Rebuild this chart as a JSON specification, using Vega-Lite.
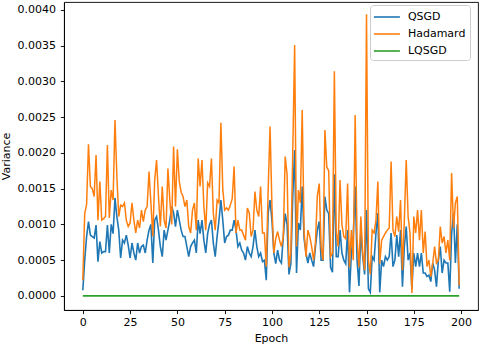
{
"$schema": "https://vega.github.io/schema/vega-lite/v6.json",
"width": 414, "height": 308,
"autosize": {"type": "none"},
"padding": {"left": 64, "top": 2, "right": 2, "bottom": 34},
"background": "white",
"config": {
 "font": "DejaVu Sans",
 "view": {"stroke": "#000000", "strokeWidth": 0.9},
 "axis": {"grid": false, "domainColor": "#000000", "domainWidth": 0.9, "tickColor": "#000000", "tickWidth": 0.9, "tickSize": 3.6, "labelFontSize": 11, "labelColor": "#000000", "labelPadding": 2.5, "titleFontSize": 11, "titleFontWeight": "normal", "titleColor": "#000000"}
},
"data": {"values": [
{"epoch":0,"QSGD":0.00008,"Hadamard":0.00022,"LQSGD":0},
{"epoch":1,"QSGD":0.00050,"Hadamard":0.00115,"LQSGD":0},
{"epoch":2,"QSGD":0.00083,"Hadamard":0.00128,"LQSGD":0},
{"epoch":3,"QSGD":0.00104,"Hadamard":0.00212,"LQSGD":0},
{"epoch":4,"QSGD":0.00085,"Hadamard":0.00153,"LQSGD":0},
{"epoch":5,"QSGD":0.00083,"Hadamard":0.00150,"LQSGD":0},
{"epoch":6,"QSGD":0.00081,"Hadamard":0.00139,"LQSGD":0},
{"epoch":7,"QSGD":0.00099,"Hadamard":0.00197,"LQSGD":0},
{"epoch":8,"QSGD":0.00048,"Hadamard":0.00106,"LQSGD":0},
{"epoch":9,"QSGD":0.00076,"Hadamard":0.00160,"LQSGD":0},
{"epoch":10,"QSGD":0.00060,"Hadamard":0.00106,"LQSGD":0},
{"epoch":11,"QSGD":0.00062,"Hadamard":0.00108,"LQSGD":0},
{"epoch":12,"QSGD":0.00062,"Hadamard":0.00111,"LQSGD":0},
{"epoch":13,"QSGD":0.00099,"Hadamard":0.00211,"LQSGD":0},
{"epoch":14,"QSGD":0.00060,"Hadamard":0.00109,"LQSGD":0},
{"epoch":15,"QSGD":0.00100,"Hadamard":0.00148,"LQSGD":0},
{"epoch":16,"QSGD":0.00087,"Hadamard":0.00134,"LQSGD":0},
{"epoch":17,"QSGD":0.00137,"Hadamard":0.00246,"LQSGD":0},
{"epoch":18,"QSGD":0.00111,"Hadamard":0.00167,"LQSGD":0},
{"epoch":19,"QSGD":0.00092,"Hadamard":0.00111,"LQSGD":0},
{"epoch":20,"QSGD":0.00053,"Hadamard":0.00127,"LQSGD":0},
{"epoch":21,"QSGD":0.00078,"Hadamard":0.00125,"LQSGD":0},
{"epoch":22,"QSGD":0.00074,"Hadamard":0.00130,"LQSGD":0},
{"epoch":23,"QSGD":0.00085,"Hadamard":0.00106,"LQSGD":0},
{"epoch":24,"QSGD":0.00071,"Hadamard":0.00097,"LQSGD":0},
{"epoch":25,"QSGD":0.00053,"Hadamard":0.00102,"LQSGD":0},
{"epoch":26,"QSGD":0.00074,"Hadamard":0.00130,"LQSGD":0},
{"epoch":27,"QSGD":0.00060,"Hadamard":0.00106,"LQSGD":0},
{"epoch":28,"QSGD":0.00050,"Hadamard":0.00088,"LQSGD":0},
{"epoch":29,"QSGD":0.00074,"Hadamard":0.00106,"LQSGD":0},
{"epoch":30,"QSGD":0.00060,"Hadamard":0.00095,"LQSGD":0},
{"epoch":31,"QSGD":0.00069,"Hadamard":0.00120,"LQSGD":0},
{"epoch":32,"QSGD":0.00071,"Hadamard":0.00104,"LQSGD":0},
{"epoch":33,"QSGD":0.00060,"Hadamard":0.00120,"LQSGD":0},
{"epoch":34,"QSGD":0.00078,"Hadamard":0.00125,"LQSGD":0},
{"epoch":35,"QSGD":0.00092,"Hadamard":0.00174,"LQSGD":0},
{"epoch":36,"QSGD":0.00100,"Hadamard":0.00130,"LQSGD":0},
{"epoch":37,"QSGD":0.00046,"Hadamard":0.00083,"LQSGD":0},
{"epoch":38,"QSGD":0.00106,"Hadamard":0.00162,"LQSGD":0},
{"epoch":39,"QSGD":0.00111,"Hadamard":0.00190,"LQSGD":0},
{"epoch":40,"QSGD":0.00092,"Hadamard":0.00139,"LQSGD":0},
{"epoch":41,"QSGD":0.00069,"Hadamard":0.00097,"LQSGD":0},
{"epoch":42,"QSGD":0.00055,"Hadamard":0.00153,"LQSGD":0},
{"epoch":43,"QSGD":0.00092,"Hadamard":0.00106,"LQSGD":0},
{"epoch":44,"QSGD":0.00078,"Hadamard":0.00095,"LQSGD":0},
{"epoch":45,"QSGD":0.00092,"Hadamard":0.00178,"LQSGD":0},
{"epoch":46,"QSGD":0.00106,"Hadamard":0.00134,"LQSGD":0},
{"epoch":47,"QSGD":0.00125,"Hadamard":0.00100,"LQSGD":0},
{"epoch":48,"QSGD":0.00116,"Hadamard":0.00209,"LQSGD":0},
{"epoch":49,"QSGD":0.00097,"Hadamard":0.00125,"LQSGD":0},
{"epoch":50,"QSGD":0.00120,"Hadamard":0.00205,"LQSGD":0},
{"epoch":51,"QSGD":0.00106,"Hadamard":0.00160,"LQSGD":0},
{"epoch":52,"QSGD":0.00092,"Hadamard":0.00145,"LQSGD":0},
{"epoch":53,"QSGD":0.00083,"Hadamard":0.00139,"LQSGD":0},
{"epoch":54,"QSGD":0.00083,"Hadamard":0.00125,"LQSGD":0},
{"epoch":55,"QSGD":0.00069,"Hadamard":0.00134,"LQSGD":0},
{"epoch":56,"QSGD":0.00055,"Hadamard":0.00097,"LQSGD":0},
{"epoch":57,"QSGD":0.00069,"Hadamard":0.00088,"LQSGD":0},
{"epoch":58,"QSGD":0.00074,"Hadamard":0.00120,"LQSGD":0},
{"epoch":59,"QSGD":0.00078,"Hadamard":0.00130,"LQSGD":0},
{"epoch":60,"QSGD":0.00060,"Hadamard":0.00092,"LQSGD":0},
{"epoch":61,"QSGD":0.00106,"Hadamard":0.00192,"LQSGD":0},
{"epoch":62,"QSGD":0.00087,"Hadamard":0.00153,"LQSGD":0},
{"epoch":63,"QSGD":0.00106,"Hadamard":0.00190,"LQSGD":0},
{"epoch":64,"QSGD":0.00078,"Hadamard":0.00125,"LQSGD":0},
{"epoch":65,"QSGD":0.00060,"Hadamard":0.00092,"LQSGD":0},
{"epoch":66,"QSGD":0.00087,"Hadamard":0.00158,"LQSGD":0},
{"epoch":67,"QSGD":0.00100,"Hadamard":0.00153,"LQSGD":0},
{"epoch":68,"QSGD":0.00106,"Hadamard":0.00192,"LQSGD":0},
{"epoch":69,"QSGD":0.00074,"Hadamard":0.00116,"LQSGD":0},
{"epoch":70,"QSGD":0.00055,"Hadamard":0.00092,"LQSGD":0},
{"epoch":71,"QSGD":0.00083,"Hadamard":0.00134,"LQSGD":0},
{"epoch":72,"QSGD":0.00106,"Hadamard":0.00130,"LQSGD":0},
{"epoch":73,"QSGD":0.00134,"Hadamard":0.00242,"LQSGD":0},
{"epoch":74,"QSGD":0.00106,"Hadamard":0.00150,"LQSGD":0},
{"epoch":75,"QSGD":0.00074,"Hadamard":0.00120,"LQSGD":0},
{"epoch":76,"QSGD":0.00083,"Hadamard":0.00123,"LQSGD":0},
{"epoch":77,"QSGD":0.00085,"Hadamard":0.00120,"LQSGD":0},
{"epoch":78,"QSGD":0.00092,"Hadamard":0.00127,"LQSGD":0},
{"epoch":79,"QSGD":0.00092,"Hadamard":0.00136,"LQSGD":0},
{"epoch":80,"QSGD":0.00106,"Hadamard":0.00181,"LQSGD":0},
{"epoch":81,"QSGD":0.00092,"Hadamard":0.00088,"LQSGD":0},
{"epoch":82,"QSGD":0.00069,"Hadamard":0.00106,"LQSGD":0},
{"epoch":83,"QSGD":0.00074,"Hadamard":0.00092,"LQSGD":0},
{"epoch":84,"QSGD":0.00064,"Hadamard":0.00092,"LQSGD":0},
{"epoch":85,"QSGD":0.00060,"Hadamard":0.00085,"LQSGD":0},
{"epoch":86,"QSGD":0.00050,"Hadamard":0.00078,"LQSGD":0},
{"epoch":87,"QSGD":0.00069,"Hadamard":0.00123,"LQSGD":0},
{"epoch":88,"QSGD":0.00060,"Hadamard":0.00116,"LQSGD":0},
{"epoch":89,"QSGD":0.00055,"Hadamard":0.00083,"LQSGD":0},
{"epoch":90,"QSGD":0.00069,"Hadamard":0.00092,"LQSGD":0},
{"epoch":91,"QSGD":0.00092,"Hadamard":0.00146,"LQSGD":0},
{"epoch":92,"QSGD":0.00069,"Hadamard":0.00120,"LQSGD":0},
{"epoch":93,"QSGD":0.00055,"Hadamard":0.00111,"LQSGD":0},
{"epoch":94,"QSGD":0.00060,"Hadamard":0.00153,"LQSGD":0},
{"epoch":95,"QSGD":0.00048,"Hadamard":0.00088,"LQSGD":0},
{"epoch":96,"QSGD":0.00050,"Hadamard":0.00088,"LQSGD":0},
{"epoch":97,"QSGD":0.00022,"Hadamard":0.00041,"LQSGD":0},
{"epoch":98,"QSGD":0.00116,"Hadamard":0.00148,"LQSGD":0},
{"epoch":99,"QSGD":0.00134,"Hadamard":0.00237,"LQSGD":0},
{"epoch":100,"QSGD":0.00106,"Hadamard":0.00125,"LQSGD":0},
{"epoch":101,"QSGD":0.00060,"Hadamard":0.00060,"LQSGD":0},
{"epoch":102,"QSGD":0.00045,"Hadamard":0.00080,"LQSGD":0},
{"epoch":103,"QSGD":0.00064,"Hadamard":0.00090,"LQSGD":0},
{"epoch":104,"QSGD":0.00050,"Hadamard":0.00078,"LQSGD":0},
{"epoch":105,"QSGD":0.00046,"Hadamard":0.00069,"LQSGD":0},
{"epoch":106,"QSGD":0.00083,"Hadamard":0.00083,"LQSGD":0},
{"epoch":107,"QSGD":0.00115,"Hadamard":0.00195,"LQSGD":0},
{"epoch":108,"QSGD":0.00100,"Hadamard":0.00170,"LQSGD":0},
{"epoch":109,"QSGD":0.00030,"Hadamard":0.00040,"LQSGD":0},
{"epoch":110,"QSGD":0.00045,"Hadamard":0.00060,"LQSGD":0},
{"epoch":111,"QSGD":0.00139,"Hadamard":0.00200,"LQSGD":0},
{"epoch":112,"QSGD":0.00204,"Hadamard":0.00351,"LQSGD":0},
{"epoch":113,"QSGD":0.00032,"Hadamard":0.00069,"LQSGD":0},
{"epoch":114,"QSGD":0.00102,"Hadamard":0.00148,"LQSGD":0},
{"epoch":115,"QSGD":0.00092,"Hadamard":0.00130,"LQSGD":0},
{"epoch":116,"QSGD":0.00153,"Hadamard":0.00260,"LQSGD":0},
{"epoch":117,"QSGD":0.00080,"Hadamard":0.00090,"LQSGD":0},
{"epoch":118,"QSGD":0.00060,"Hadamard":0.00055,"LQSGD":0},
{"epoch":119,"QSGD":0.00046,"Hadamard":0.00092,"LQSGD":0},
{"epoch":120,"QSGD":0.00060,"Hadamard":0.00083,"LQSGD":0},
{"epoch":121,"QSGD":0.00050,"Hadamard":0.00069,"LQSGD":0},
{"epoch":122,"QSGD":0.00041,"Hadamard":0.00050,"LQSGD":0},
{"epoch":123,"QSGD":0.00069,"Hadamard":0.00075,"LQSGD":0},
{"epoch":124,"QSGD":0.00092,"Hadamard":0.00140,"LQSGD":0},
{"epoch":125,"QSGD":0.00104,"Hadamard":0.00157,"LQSGD":0},
{"epoch":126,"QSGD":0.00050,"Hadamard":0.00069,"LQSGD":0},
{"epoch":127,"QSGD":0.00050,"Hadamard":0.00050,"LQSGD":0},
{"epoch":128,"QSGD":0.00139,"Hadamard":0.00232,"LQSGD":0},
{"epoch":129,"QSGD":0.00120,"Hadamard":0.00180,"LQSGD":0},
{"epoch":130,"QSGD":0.00115,"Hadamard":0.00175,"LQSGD":0},
{"epoch":131,"QSGD":0.00040,"Hadamard":0.00055,"LQSGD":0},
{"epoch":132,"QSGD":0.00033,"Hadamard":0.00060,"LQSGD":0},
{"epoch":133,"QSGD":0.00170,"Hadamard":0.00314,"LQSGD":0},
{"epoch":134,"QSGD":0.00055,"Hadamard":0.00090,"LQSGD":0},
{"epoch":135,"QSGD":0.00055,"Hadamard":0.00069,"LQSGD":0},
{"epoch":136,"QSGD":0.00092,"Hadamard":0.00162,"LQSGD":0},
{"epoch":137,"QSGD":0.00060,"Hadamard":0.00100,"LQSGD":0},
{"epoch":138,"QSGD":0.00050,"Hadamard":0.00083,"LQSGD":0},
{"epoch":139,"QSGD":0.00045,"Hadamard":0.00080,"LQSGD":0},
{"epoch":140,"QSGD":0.00092,"Hadamard":0.00157,"LQSGD":0},
{"epoch":141,"QSGD":0.00005,"Hadamard":0.00040,"LQSGD":0},
{"epoch":142,"QSGD":0.00060,"Hadamard":0.00092,"LQSGD":0},
{"epoch":143,"QSGD":0.00085,"Hadamard":0.00050,"LQSGD":0},
{"epoch":144,"QSGD":0.00153,"Hadamard":0.00253,"LQSGD":0},
{"epoch":145,"QSGD":0.00050,"Hadamard":0.00080,"LQSGD":0},
{"epoch":146,"QSGD":0.00014,"Hadamard":0.00040,"LQSGD":0},
{"epoch":147,"QSGD":0.00090,"Hadamard":0.00111,"LQSGD":0},
{"epoch":148,"QSGD":0.00055,"Hadamard":0.00060,"LQSGD":0},
{"epoch":149,"QSGD":0.00030,"Hadamard":0.00036,"LQSGD":0},
{"epoch":150,"QSGD":0.00120,"Hadamard":0.00394,"LQSGD":0},
{"epoch":151,"QSGD":0.00010,"Hadamard":0.00050,"LQSGD":0},
{"epoch":152,"QSGD":0.00005,"Hadamard":0.00030,"LQSGD":0},
{"epoch":153,"QSGD":0.00055,"Hadamard":0.00092,"LQSGD":0},
{"epoch":154,"QSGD":0.00050,"Hadamard":0.00088,"LQSGD":0},
{"epoch":155,"QSGD":0.00088,"Hadamard":0.00106,"LQSGD":0},
{"epoch":156,"QSGD":0.00116,"Hadamard":0.00160,"LQSGD":0},
{"epoch":157,"QSGD":0.00005,"Hadamard":0.00045,"LQSGD":0},
{"epoch":158,"QSGD":0.00050,"Hadamard":0.00078,"LQSGD":0},
{"epoch":159,"QSGD":0.00041,"Hadamard":0.00083,"LQSGD":0},
{"epoch":160,"QSGD":0.00055,"Hadamard":0.00088,"LQSGD":0},
{"epoch":161,"QSGD":0.00050,"Hadamard":0.00092,"LQSGD":0},
{"epoch":162,"QSGD":0.00055,"Hadamard":0.00095,"LQSGD":0},
{"epoch":163,"QSGD":0.00088,"Hadamard":0.00188,"LQSGD":0},
{"epoch":164,"QSGD":0.00041,"Hadamard":0.00092,"LQSGD":0},
{"epoch":165,"QSGD":0.00050,"Hadamard":0.00083,"LQSGD":0},
{"epoch":166,"QSGD":0.00085,"Hadamard":0.00111,"LQSGD":0},
{"epoch":167,"QSGD":0.00055,"Hadamard":0.00090,"LQSGD":0},
{"epoch":168,"QSGD":0.00092,"Hadamard":0.00134,"LQSGD":0},
{"epoch":169,"QSGD":0.00013,"Hadamard":0.00036,"LQSGD":0},
{"epoch":170,"QSGD":0.00069,"Hadamard":0.00106,"LQSGD":0},
{"epoch":171,"QSGD":0.00097,"Hadamard":0.00190,"LQSGD":0},
{"epoch":172,"QSGD":0.00050,"Hadamard":0.00111,"LQSGD":0},
{"epoch":173,"QSGD":0.00060,"Hadamard":0.00088,"LQSGD":0},
{"epoch":174,"QSGD":0.00010,"Hadamard":0.00004,"LQSGD":0},
{"epoch":175,"QSGD":0.00060,"Hadamard":0.00111,"LQSGD":0},
{"epoch":176,"QSGD":0.00041,"Hadamard":0.00088,"LQSGD":0},
{"epoch":177,"QSGD":0.00060,"Hadamard":0.00120,"LQSGD":0},
{"epoch":178,"QSGD":0.00041,"Hadamard":0.00078,"LQSGD":0},
{"epoch":179,"QSGD":0.00060,"Hadamard":0.00120,"LQSGD":0},
{"epoch":180,"QSGD":0.00032,"Hadamard":0.00060,"LQSGD":0},
{"epoch":181,"QSGD":0.00032,"Hadamard":0.00090,"LQSGD":0},
{"epoch":182,"QSGD":0.00027,"Hadamard":0.00041,"LQSGD":0},
{"epoch":183,"QSGD":0.00029,"Hadamard":0.00050,"LQSGD":0},
{"epoch":184,"QSGD":0.00020,"Hadamard":0.00027,"LQSGD":0},
{"epoch":185,"QSGD":0.00046,"Hadamard":0.00045,"LQSGD":0},
{"epoch":186,"QSGD":0.00036,"Hadamard":0.00069,"LQSGD":0},
{"epoch":187,"QSGD":0.00013,"Hadamard":0.00046,"LQSGD":0},
{"epoch":188,"QSGD":0.00050,"Hadamard":0.00050,"LQSGD":0},
{"epoch":189,"QSGD":0.00069,"Hadamard":0.00097,"LQSGD":0},
{"epoch":190,"QSGD":0.00032,"Hadamard":0.00074,"LQSGD":0},
{"epoch":191,"QSGD":0.00050,"Hadamard":0.00083,"LQSGD":0},
{"epoch":192,"QSGD":0.00046,"Hadamard":0.00060,"LQSGD":0},
{"epoch":193,"QSGD":0.00046,"Hadamard":0.00078,"LQSGD":0},
{"epoch":194,"QSGD":0.00006,"Hadamard":0.00050,"LQSGD":0},
{"epoch":195,"QSGD":0.00087,"Hadamard":0.00172,"LQSGD":0},
{"epoch":196,"QSGD":0.00116,"Hadamard":0.00095,"LQSGD":0},
{"epoch":197,"QSGD":0.00046,"Hadamard":0.00130,"LQSGD":0},
{"epoch":198,"QSGD":0.00100,"Hadamard":0.00139,"LQSGD":0},
{"epoch":199,"QSGD":0.00010,"Hadamard":0.00015,"LQSGD":0}
]},
"transform": [{"fold": ["QSGD", "Hadamard", "LQSGD"], "as": ["method", "variance"]}],
"encoding": {
 "x": {"field": "epoch", "type": "quantitative", "scale": {"domain": [-9.95, 208.95], "nice": false, "zero": false}, "axis": {"values": [0, 25, 50, 75, 100, 125, 150, 175, 200], "title": "Epoch", "labelFlush": false, "titlePadding": 5}},
 "y": {"field": "variance", "type": "quantitative", "scale": {"domain": [-0.000197, 0.00411], "nice": false, "zero": false}, "axis": {"values": [0, 0.0005, 0.001, 0.0015, 0.002, 0.0025, 0.003, 0.0035, 0.004], "format": ".4f", "title": "Variance", "labelFlush": false, "labelPadding": 5, "titlePadding": 5}},
 "color": {"field": "method", "type": "nominal", "scale": {"domain": ["QSGD", "Hadamard", "LQSGD"], "range": ["#1f77b4", "#ff7f0e", "#2ca02c"]},
  "legend": {"title": null, "orient": "none", "legendX": 306, "legendY": 3, "symbolType": "M-1.84,0H1.84", "symbolSize": 200, "symbolStrokeWidth": 1.6, "symbolOffset": 4.9, "labelFontSize": 11, "labelColor": "#000000", "labelExpr": "datum.label + '    '", "padding": 4, "strokeColor": "#cccccc", "fillColor": "rgba(255,255,255,0.8)", "cornerRadius": 3, "rowPadding": 4, "labelOffset": 13}}
},
"layer": [
 {"transform": [{"filter": "datum.method === 'QSGD'"}], "mark": {"type": "line", "strokeWidth": 1.6, "clip": true}},
 {"transform": [{"filter": "datum.method === 'Hadamard'"}], "mark": {"type": "line", "strokeWidth": 1.5, "clip": true}},
 {"transform": [{"filter": "datum.method === 'LQSGD'"}], "mark": {"type": "line", "strokeWidth": 1.6, "clip": true}}
]
}
